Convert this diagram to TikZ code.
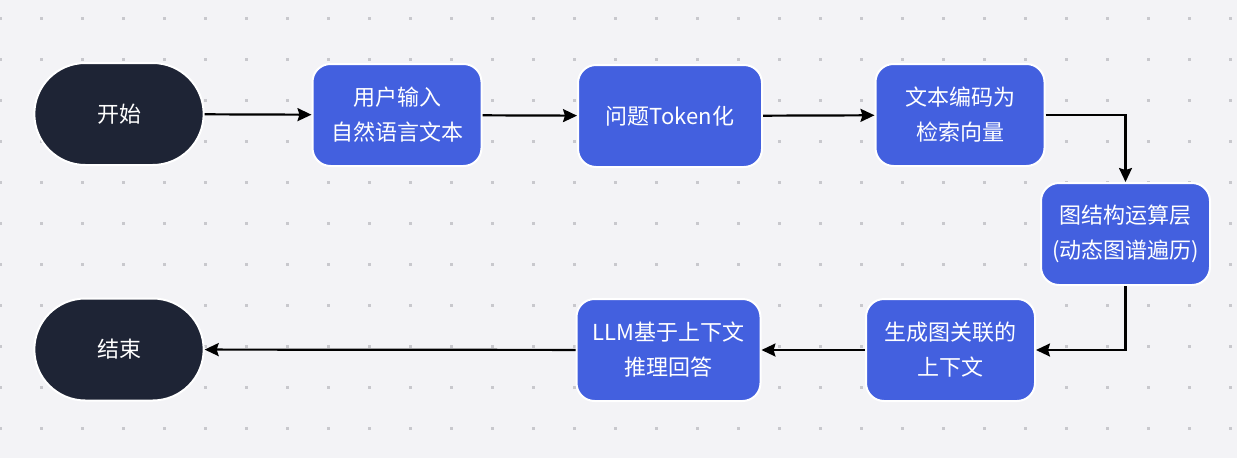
\documentclass[tikz,border=0pt]{standalone}
\usepackage{fontspec}
\setmainfont{Noto Sans CJK SC}
\usetikzlibrary{shapes.misc,arrows.meta}

\definecolor{bgcol}{HTML}{F3F3F6}
\definecolor{dotcol}{HTML}{C8C8CD}
\definecolor{boxblue}{HTML}{4360DF}
\definecolor{pilldark}{HTML}{1E2435}

\begin{document}
\begin{tikzpicture}[x=1pt,y=-1pt,
    flowbox/.style={rectangle, rounded corners=18pt, fill=boxblue, draw=white, line width=2pt,
      text=white, minimum width=169pt, minimum height=102pt, align=center,
      font=\fontsize{22}{35}\selectfont},
    widebox/.style={flowbox, minimum width=184pt},
    pill/.style={rounded rectangle, fill=pilldark, draw=white, line width=2pt, text=white,
      minimum width=176pt, minimum height=102pt, font=\fontsize{22}{35}\selectfont},
    flow/.style={-{Stealth[length=14pt,width=13pt,inset=2pt]}, line width=2.2pt, black}]
        % background and dotted grid
        \useasboundingbox (0,0) rectangle (1237,458);
        \fill[bgcol] (0,0) rectangle (1237,458);
        \foreach \i in {0,...,30}
            \foreach \j in {0,...,10}
                \fill[dotcol] (0.7+41*\i-1.5,18.3+41*\j-1.5) rectangle ++(3,3);

        % top row
        \node[pill] (start) at (119,114) {开始};
        \node[flowbox] (input) at (397,115) {用户输入\\自然语言文本};
        \node[widebox] (token) at (670,116) {问题Token化};
        \node[flowbox] (encode) at (960,115) {文本编码为\\检索向量};

        % graph layer
        \node[flowbox] (graph) at (1125.5,234) {图结构运算层\\(动态图谱遍历)};

        % bottom row
        \node[flowbox] (context) at (950.5,350) {生成图关联的\\上下文};
        \node[widebox] (answer) at (668.5,350) {LLM基于上下文\\推理回答};
        \node[pill] (stop) at (119,349.5) {结束};

        % connectors
        \draw[flow] (start) -- (input);
        \draw[flow] (input) -- (token);
        \draw[flow] (token) -- (encode);
        \draw[flow] (encode.east) -| (graph.north);
        \draw[flow] (graph.south) |- (context.east);
        \draw[flow] (context) -- (answer);
        \draw[flow] (answer) -- (stop);
    \end{tikzpicture}
\end{document}
